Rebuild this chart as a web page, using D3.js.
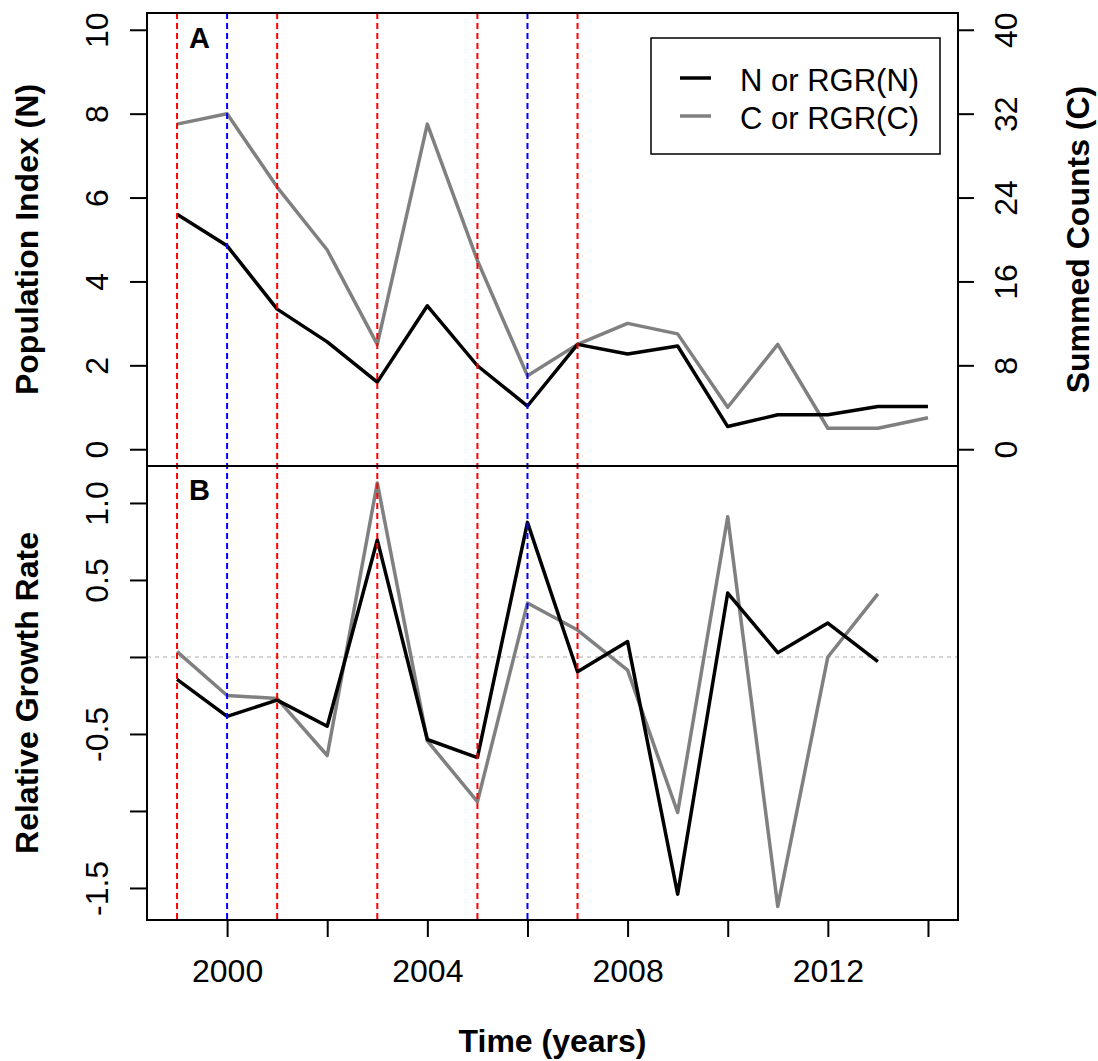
<!DOCTYPE html>
<html>
<head>
<meta charset="utf-8">
<script src="https://cdn.jsdelivr.net/npm/d3@7"></script>
<style>
  html, body { margin: 0; padding: 0; background: #fff; }
  svg { display: block; font-family: "Liberation Sans", Arial, Helvetica, sans-serif; }
</style>
</head>
<body>
<svg id="chart" width="1098" height="1061"></svg>
<script>
// ---- data ----
const years = [1999,2000,2001,2002,2003,2004,2005,2006,2007,2008,2009,2010,2011,2012,2013,2014];
const popIndexN = [5.60,4.85,3.34,2.56,1.60,3.42,1.99,1.03,2.50,2.27,2.46,0.54,0.82,0.82,1.02,1.02];
const summedC = [31,32,25,19,10,31,18,7,10,12,11,4,10,2,2,3];
const rgrYears = [1999,2000,2001,2002,2003,2004,2005,2006,2007,2008,2009,2010,2011,2012,2013];
const rgrN = [-0.146,-0.386,-0.28,-0.45,0.76,-0.536,-0.653,0.874,-0.096,0.10,-1.54,0.415,0.028,0.22,-0.03];
const rgrC = [0.035,-0.25,-0.27,-0.64,1.13,-0.545,-0.94,0.35,0.175,-0.085,-1.01,0.91,-1.62,0.0,0.41];
const redYears = [1999,2001,2003,2005,2007];
const blueYears = [2000,2006];
const xTicks = [2000,2002,2004,2006,2008,2010,2012,2014];
const xLabelled = [2000,2004,2008,2012];
const nTicks = [0,2,4,6,8,10];
const cTicks = [0,8,16,24,32,40];
const rgrTicks = [-1.5,-1.0,-0.5,0,0.5,1.0];
const rgrLabelled = [-1.5,-0.5,0.5,1.0];
const legendLabels = ["N or RGR(N)", "C or RGR(C)"];

// ---- layout ----
const L = 147, R = 958, TA = 13, MID = 466, BB = 920;
const svg = d3.select("#chart");
const FONT = 32;

const x = d3.scaleLinear().domain([1998.4, 2014.6]).range([L, R]);
const yN = d3.scaleLinear().domain([-0.4, 10.4]).range([MID, TA]);
const yC = d3.scaleLinear().domain([-1.6, 41.6]).range([MID, TA]);
const yR = d3.scaleLinear().domain([-1.708, 1.24]).range([BB, MID]);

const black = "#000000", gray = "#808080";

// ---- data lines ----
function drawLine(xs, ys, yScale, color) {
  const pts = xs.map((d, i) => [d, ys[i]]);
  svg.append("path")
    .datum(pts)
    .attr("fill", "none")
    .attr("stroke", color)
    .attr("stroke-width", 3.5)
    .attr("stroke-linejoin", "round")
    .attr("stroke-linecap", "butt")
    .attr("d", d3.line().x(d => x(d[0])).y(d => yScale(d[1])));
}

// zero reference line in panel B
svg.append("line")
  .attr("x1", L).attr("x2", R)
  .attr("y1", yR(0)).attr("y2", yR(0))
  .attr("stroke", "#c8c8c8").attr("stroke-width", 1.5)
  .attr("stroke-dasharray", "4,4");

drawLine(years, summedC, yC, gray);
drawLine(years, popIndexN, yN, black);
drawLine(rgrYears, rgrC, yR, gray);
drawLine(rgrYears, rgrN, yR, black);

// vertical dashed lines
function vlines(list, color) {
  svg.selectAll(null).data(list).enter().append("line")
    .attr("x1", d => x(d)).attr("x2", d => x(d))
    .attr("y1", TA).attr("y2", BB)
    .attr("stroke", color).attr("stroke-width", 2)
    .attr("stroke-dasharray", "6,4");
}
vlines(redYears, "#ff0000");
vlines(blueYears, "#0000ff");

// ---- boxes ----
svg.append("rect").attr("x", L).attr("y", TA).attr("width", R - L).attr("height", MID - TA)
  .attr("fill", "none").attr("stroke", "#000").attr("stroke-width", 2);
svg.append("rect").attr("x", L).attr("y", MID).attr("width", R - L).attr("height", BB - MID)
  .attr("fill", "none").attr("stroke", "#000").attr("stroke-width", 2);

// ---- axes ----
function styleAxis(g) {
  g.select(".domain").remove();
  g.selectAll(".tick line").attr("stroke", "#000").attr("stroke-width", 2);
  g.selectAll(".tick text").attr("font-size", FONT).attr("fill", "#000")
    .attr("font-family", "'Liberation Sans', Arial, sans-serif");
}
const fmtB = d => (rgrLabelled.includes(d) ? (d < 0 ? "-" : "") + Math.abs(d).toFixed(1) : "");

// left axis panel A
const gA = svg.append("g").attr("transform", `translate(${L},0)`)
  .call(d3.axisLeft(yN).tickValues(nTicks).tickSize(17).tickFormat(d => String(d)));
styleAxis(gA);
gA.selectAll(".tick text").attr("transform", "rotate(-90)")
  .attr("x", 0).attr("y", -39).attr("dy", 0).attr("text-anchor", "middle");

// right axis panel A
const gC = svg.append("g").attr("transform", `translate(${R},0)`)
  .call(d3.axisRight(yC).tickValues(cTicks).tickSize(16).tickFormat(d => String(d)));
styleAxis(gC);
gC.selectAll(".tick text").attr("transform", "rotate(-90)")
  .attr("x", 0).attr("y", 59).attr("dy", 0).attr("text-anchor", "middle");

// left axis panel B
const gB = svg.append("g").attr("transform", `translate(${L},0)`)
  .call(d3.axisLeft(yR).tickValues(rgrTicks).tickSize(17).tickFormat(fmtB));
styleAxis(gB);
gB.selectAll(".tick text").attr("transform", "rotate(-90)")
  .attr("x", 0).attr("y", -39).attr("dy", 0).attr("text-anchor", "middle");

// bottom axis
const gX = svg.append("g").attr("transform", `translate(0,${BB})`)
  .call(d3.axisBottom(x).tickValues(xTicks).tickSize(17)
    .tickFormat(d => xLabelled.includes(d) ? String(d) : ""));
styleAxis(gX);
gX.selectAll(".tick text").attr("y", 62).attr("dy", 0).attr("text-anchor", "middle");

// ---- titles ----
function vtitle(text, cx, cy) {
  svg.append("text")
    .attr("transform", `translate(${cx},${cy}) rotate(-90)`)
    .attr("text-anchor", "middle")
    .attr("font-size", FONT).attr("font-weight", "bold")
    .text(text);
}
vtitle("Population Index (N)", 38, (TA + MID) / 2);
vtitle("Relative Growth Rate", 38, (MID + BB) / 2);
vtitle("Summed Counts (C)", 1089, (TA + MID) / 2);

svg.append("text")
  .attr("x", (L + R) / 2).attr("y", 1052)
  .attr("text-anchor", "middle")
  .attr("font-size", FONT).attr("font-weight", "bold")
  .text("Time (years)");

// panel labels
svg.append("text").attr("x", 189).attr("y", 48).attr("font-size", 29).attr("font-weight", "bold").text("A");
svg.append("text").attr("x", 189).attr("y", 500).attr("font-size", 29).attr("font-weight", "bold").text("B");

// ---- legend ----
const lg = svg.append("g");
lg.append("rect").attr("x", 651).attr("y", 38).attr("width", 289).attr("height", 116)
  .attr("fill", "#fff").attr("stroke", "#000").attr("stroke-width", 1.5);
const legColors = [black, gray];
const legY = [78, 116];
legendLabels.forEach((lab, i) => {
  lg.append("line").attr("x1", 680).attr("x2", 711).attr("y1", legY[i]).attr("y2", legY[i])
    .attr("stroke", legColors[i]).attr("stroke-width", 3.5);
  lg.append("text").attr("x", 740).attr("y", legY[i] + 13).attr("font-size", 31).text(lab);
});
</script>
</body>
</html>
